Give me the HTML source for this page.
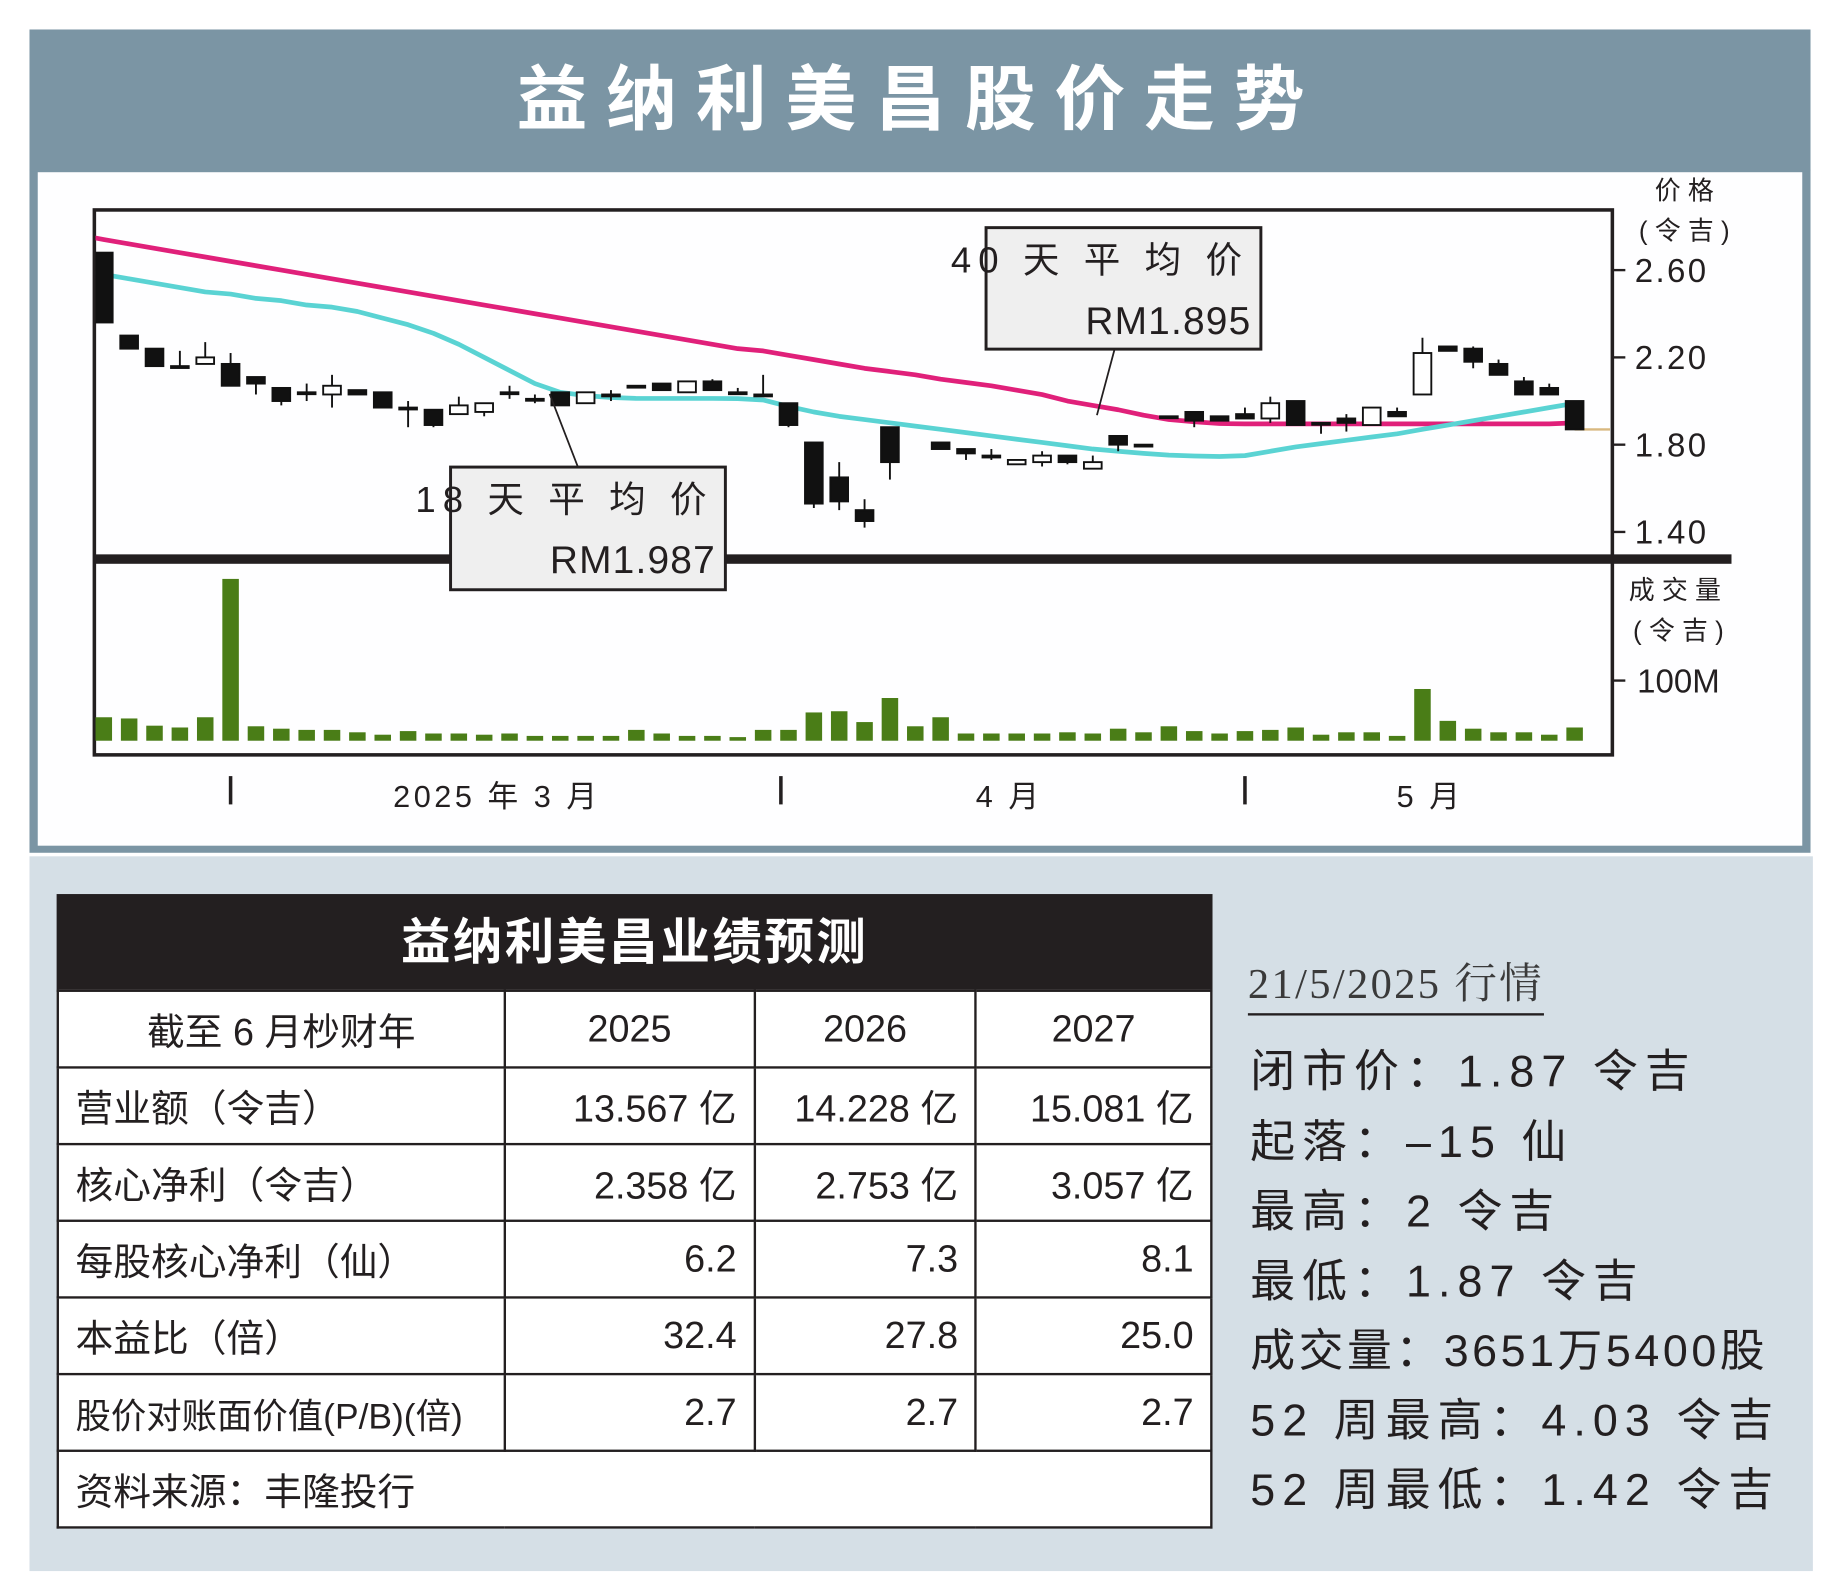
<!DOCTYPE html>
<html><head><meta charset="utf-8">
<style>
html,body{margin:0;padding:0;background:#fff;}
body{width:1840px;height:1588px;overflow:hidden;}
#wrap{position:absolute;left:0;top:0;width:1560px;height:1346px;transform:scale(1.17949);transform-origin:0 0;font-family:"Liberation Sans","Noto Sans CJK SC",sans-serif;color:#231f20;}
.abs{position:absolute;}
#title{left:25px;top:25px;width:1510px;height:120px;background:#7b95a4;color:#fff;font-weight:bold;font-size:60px;letter-spacing:16px;text-align:center;line-height:120px;}
#chartpanel{left:25px;top:143px;width:1510px;height:580px;background:#7b95a4;}
#chartinner{left:32px;top:146px;width:1496px;height:571px;background:#fefeff;}
#bottom{left:25px;top:726px;width:1512px;height:606px;background:#d5dfe6;}
table{border-collapse:collapse;}
#tbl{left:48px;top:758px;width:980px;background:#fff;}
#tbl td{border:2px solid #231f20;font-size:32px;height:63px;padding:0 14px;}
#tbl td.n{text-align:right;}
#tbl td.c{text-align:center;}
#tblhead{left:48px;top:758px;width:980px;height:81px;background:#231f20;color:#fff;font-weight:bold;font-size:42px;text-align:center;line-height:81px;letter-spacing:2px;}
.info{left:1060px;font-size:38px;letter-spacing:6px;white-space:nowrap;}
</style></head><body>
<div id="wrap">
<div id="chartpanel" class="abs"></div>
<div id="title" class="abs">益纳利美昌股价走势</div>
<div id="chartinner" class="abs"></div>
<svg class="abs" style="left:0;top:0" width="1560" height="730" id="chart">
</svg>
<div id="bottom" class="abs"></div>
<div id="tblhead" class="abs">益纳利美昌业绩预测</div>
<table id="tbl" class="abs" style="top:839px">
<tr><td class="c" style="width:350px">截至 6 月杪财年</td><td class="c" style="width:182px">2025</td><td class="c" style="width:158px">2026</td><td class="c" style="width:170px">2027</td></tr>
<tr><td>营业额（令吉）</td><td class="n">13.567 亿</td><td class="n">14.228 亿</td><td class="n">15.081 亿</td></tr>
<tr><td>核心净利（令吉）</td><td class="n">2.358 亿</td><td class="n">2.753 亿</td><td class="n">3.057 亿</td></tr>
<tr><td>每股核心净利（仙）</td><td class="n">6.2</td><td class="n">7.3</td><td class="n">8.1</td></tr>
<tr><td>本益比（倍）</td><td class="n">32.4</td><td class="n">27.8</td><td class="n">25.0</td></tr>
<tr><td style="font-size:30px">股价对账面价值(P/B)(倍)</td><td class="n">2.7</td><td class="n">2.7</td><td class="n">2.7</td></tr>
<tr><td colspan="4">资料来源：丰隆投行</td></tr>
</table>
<div class="abs info" style="top:806px;font-family:'Liberation Serif','Noto Serif CJK SC',serif;font-size:36px;letter-spacing:2px;color:#3a3a3a;border-bottom:2px solid #231f20;padding-bottom:2px;left:1058px">21/5/2025 行情</div>
<div class="abs info" style="top:877px">闭市价：1.87 令吉</div>
<div class="abs info" style="top:937px">起落：–15 仙</div>
<div class="abs info" style="top:996px">最高：2 令吉</div>
<div class="abs info" style="top:1055px">最低：1.87 令吉</div>
<div class="abs info" style="top:1114px;letter-spacing:3px">成交量：3651万5400股</div>
<div class="abs info" style="top:1173px">52 周最高：4.03 令吉</div>
<div class="abs info" style="top:1232px">52 周最低：1.42 令吉</div>
</div>
<script>
const opens=[2.68,2.30,2.24,2.16,2.17,2.17,2.11,2.06,2.04,2.03,2.05,2.04,1.97,1.96,1.94,1.95,2.04,2.01,2.04,1.99,2.03,2.07,2.08,2.04,2.09,2.04,2.03,1.99,1.81,1.65,1.50,1.88,null,1.81,1.78,1.75,1.71,1.72,1.75,1.69,1.84,1.80,1.93,1.95,1.93,1.94,1.92,2.00,1.90,1.92,1.89,1.95,2.03,2.25,2.24,2.17,2.09,2.06,2.00];
const highs=[2.68,2.30,2.24,2.23,2.27,2.22,2.11,2.06,2.08,2.12,2.05,2.04,2.00,1.96,2.02,1.99,2.07,2.03,2.04,2.04,2.05,2.07,2.08,2.09,2.10,2.06,2.12,1.99,1.81,1.72,1.55,1.88,null,1.81,1.78,1.78,1.73,1.77,1.75,1.75,1.84,1.80,1.93,1.95,1.93,1.97,2.02,2.00,1.90,1.94,1.97,1.97,2.29,2.25,2.25,2.19,2.11,2.08,2.00];
const lows=[2.36,2.24,2.16,2.16,2.17,2.07,2.03,1.98,2.00,1.97,2.03,1.97,1.88,1.88,1.94,1.93,2.01,1.99,1.98,1.99,2.00,2.07,2.05,2.04,2.05,2.04,2.02,1.88,1.51,1.50,1.42,1.64,null,1.78,1.73,1.73,1.71,1.70,1.71,1.69,1.77,1.80,1.93,1.88,1.91,1.92,1.90,1.89,1.85,1.86,1.89,1.93,2.03,2.23,2.15,2.12,2.03,2.03,1.87];
const closes=[2.36,2.24,2.16,2.16,2.20,2.07,2.08,2.00,2.04,2.07,2.03,1.97,1.97,1.89,1.98,1.99,2.04,2.01,1.98,2.04,2.03,2.07,2.05,2.09,2.05,2.04,2.03,1.89,1.53,1.54,1.45,1.72,null,1.78,1.76,1.75,1.73,1.75,1.72,1.72,1.80,1.80,1.93,1.91,1.91,1.92,1.99,1.89,1.90,1.90,1.97,1.93,2.22,2.23,2.18,2.12,2.03,2.03,1.87];
const volumes=[39,37,25,22,39,269,24,20,18,18,14,10,16,12,12,10,12,8,8,8,8,18,12,8,8,6,18,18,47,49,31,71,24,39,12,12,12,12,14,12,20,14,24,16,12,16,18,22,10,14,14,8,86,33,20,14,14,10,22];
const ma18=[2.58,2.56,2.54,2.52,2.50,2.49,2.47,2.46,2.44,2.43,2.41,2.38,2.35,2.31,2.26,2.20,2.14,2.08,2.04,2.025,2.016,2.012,2.012,2.012,2.012,2.011,2.005,1.975,1.95,1.93,1.915,1.90,1.885,1.87,1.855,1.84,1.825,1.81,1.795,1.78,1.77,1.76,1.752,1.748,1.746,1.75,1.77,1.79,1.805,1.82,1.835,1.85,1.87,1.89,1.91,1.93,1.95,1.97,1.99];
const ma40=[2.74,2.72,2.70,2.68,2.66,2.64,2.62,2.60,2.58,2.56,2.54,2.52,2.50,2.48,2.46,2.44,2.42,2.40,2.38,2.36,2.34,2.32,2.30,2.28,2.26,2.24,2.23,2.21,2.19,2.17,2.15,2.135,2.12,2.10,2.085,2.07,2.05,2.03,2.00,1.98,1.96,1.935,1.915,1.905,1.897,1.895,1.895,1.895,1.895,1.895,1.895,1.895,1.895,1.895,1.895,1.895,1.895,1.895,1.90];
const priceTicks=[2.60,2.20,1.80,1.40];
const monthLabels=["2025 年 3 月","4 月","5 月"];
const monthTickSlots=[5,26.7,45];
const monthLabelSlots=[15.5,35.7,52.3];

const svg=document.getElementById('chart');
const NS='http://www.w3.org/2000/svg';
const X0=88,STEP=21.5,PLEFT=80,PRIGHT=1367,PTOP=178,PBOT=640,SEP=474,VBASE=628;
const xS=i=>X0+i*STEP;
const yP=p=>229+(2.6-p)*185;
const yV=v=>VBASE-v*0.51;
function mk(tag,attrs,parent){const e=document.createElementNS(NS,tag);for(const k in attrs)e.setAttribute(k,attrs[k]);(parent||svg).appendChild(e);return e;}
const txtStyle='font-family:"Liberation Sans","Noto Sans CJK SC",sans-serif;fill:#231f20';

// plot frame
let frame=mk('rect',{x:PLEFT,y:PTOP,width:PRIGHT-PLEFT,height:PBOT-PTOP,fill:'#fefeff',stroke:'#231f20','stroke-width':3});



// clip for price
const defs=mk('defs',{});
const cp=mk('clipPath',{id:'pclip'},defs);
mk('rect',{x:PLEFT+1,y:PTOP+2,width:PRIGHT-PLEFT-2,height:SEP-PTOP-4},cp);

// moving averages
function line(arr,color,name){
  let d='';arr.forEach((v,i)=>{d+=(i?'L':'M')+xS(i).toFixed(1)+' '+yP(v).toFixed(1);});
  d='M'+PLEFT+' '+yP(arr[0]-(arr[1]-arr[0])*0.4).toFixed(1)+d.replace('M','L');
  const p=mk('path',{d:d,fill:'none',stroke:color,'stroke-width':4,'clip-path':'url(#pclip)','stroke-linejoin':'round'});
  
  
}
line(ma40,'#e0207a','ma40-line');
line(ma18,'#5ad3d3','ma18-line');

// last close marker line
const lc=mk('line',{x1:xS(58),x2:PRIGHT-2,y1:yP(closes[58]),y2:yP(closes[58]),stroke:'#d8b880','stroke-width':2});



// candles
const cg=mk('g',{'clip-path':'url(#pclip)'});


opens.forEach((o,i)=>{
  if(o===null)return;
  const c=closes[i],x=xS(i);
  const g=mk('g',{},cg);
  
  
  mk('line',{x1:x,x2:x,y1:yP(highs[i]),y2:yP(lows[i]),stroke:'#111','stroke-width':1.6},g);
  const top=yP(Math.max(o,c)),h=Math.max(1.6,Math.abs(yP(o)-yP(c)));
  mk('rect',{x:x-7.5,y:top,width:15,height:h,fill:c>o?'#fff':'#111',stroke:'#111','stroke-width':1.6},g);
});

// volume bars
volumes.forEach((v,i)=>{
  const r=mk('rect',{x:xS(i)-7,y:yV(v),width:14,height:VBASE-yV(v),fill:'#4a7d17'});
  
  
});

// separator
const sp=mk('rect',{x:PLEFT,y:SEP-4,width:1468-PLEFT,height:8,fill:'#231f20'});



// price axis
priceTicks.forEach(p=>{
  const y=yP(p);
  const t=mk('line',{x1:PRIGHT,x2:PRIGHT+11,y1:y,y2:y,stroke:'#231f20','stroke-width':2});
  
  
  const l=mk('text',{x:1386,y:y+10,'font-size':28,style:txtStyle+';letter-spacing:2px'});
  l.textContent=p.toFixed(2);
  
  
});
function label(x,y,s,txt,name,anchor){const t=mk('text',{x:x,y:y,'font-size':s,style:txtStyle,'text-anchor':anchor||'start'});t.textContent=txt;return t;}
label(1428,169,22,'价 格','price-axis-title','middle');
label(1428,203,22,'( 令 吉 )','price-axis-unit','middle');
label(1420,508,22,'成 交 量','volume-axis-title','middle');
label(1423,542,22,'( 令 吉 )','volume-axis-unit','middle');
const vt=mk('line',{x1:PRIGHT,x2:PRIGHT+11,y1:yV(100),y2:yV(100),stroke:'#231f20','stroke-width':2});


label(1388,yV(100)+10,28,'100M','volume-tick-label');

// month ticks
monthTickSlots.forEach(s=>{
  const x=xS(s);
  const t=mk('line',{x1:x,x2:x,y1:658,y2:682,stroke:'#231f20','stroke-width':3});
  
  
});
monthLabels.forEach((m,i)=>{label(xS(monthLabelSlots[i]),684,26,m.split('').join(''),'month-label','middle').setAttribute('style',txtStyle+';letter-spacing:3px');});

// annotations
function annot(bx,by,bw,bh,l1,l2,px1,py1,px2,py2,name){
  const g=mk('g',{});
  
  
  mk('line',{x1:px1,y1:py1,x2:px2,y2:py2,stroke:'#231f20','stroke-width':1.5},g);
  mk('rect',{x:bx,y:by,width:bw,height:bh,fill:'#efefef',stroke:'#231f20','stroke-width':2.5},g);
  const a=mk('text',{x:bx+bw-10,y:by+38,'font-size':31,'text-anchor':'end',style:txtStyle+';letter-spacing:6px'},g);a.textContent=l1;
  const b=mk('text',{x:bx+bw-8,y:by+90,'font-size':33,'text-anchor':'end',style:txtStyle+';letter-spacing:1px'},g);b.textContent=l2;
}
annot(836,193,233,103,'40 天 平 均 价','RM1.895',945,296,930,352,'ma40-annotation');
annot(382,396,233,104,'18 天 平 均 价','RM1.987',490,396,466,334,'ma18-annotation');
</script>
</body></html>
